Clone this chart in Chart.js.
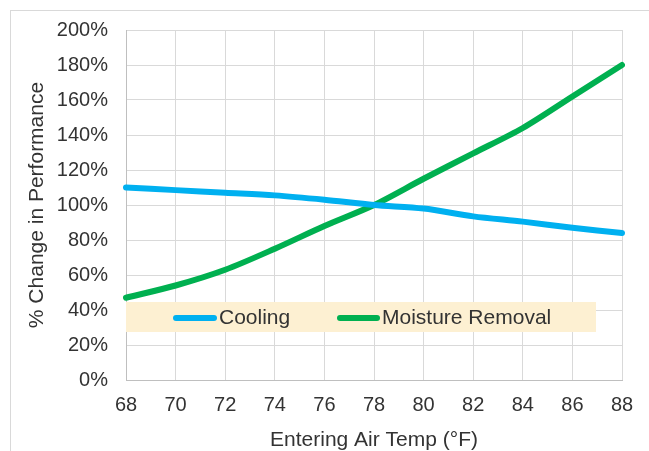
<!DOCTYPE html>
<html>
<head>
<meta charset="utf-8">
<script src="https://cdn.jsdelivr.net/npm/chart.js@4/dist/chart.umd.min.js"></script>
<style>
  html, body { margin: 0; padding: 0; background: #ffffff; }
  canvas { display: block; }
</style>
</head>
<body>
<canvas id="chart" width="649" height="451"></canvas>
<script>
// Entering air temperature (°F) on the x axis
const temps = ['68', '70', '72', '74', '76', '78', '80', '82', '84', '86', '88'];
// Percent change in performance for each temperature
const coolingPct = [110, 108.5, 107, 105.5, 103, 100, 98, 93.5, 90.5, 87, 84];
const moisturePct = [47, 54, 63, 75, 88, 100, 115, 129.5, 144, 162, 180];
// Series names and colours
const seriesNames = ['Cooling', 'Moisture Removal'];
const seriesColors = ['#00B0F0', '#00B050'];

const FONT = "'Liberation Sans', Arial, sans-serif";
const TEXT = '#333333';

// Light outer frame around the whole chart
const framePlugin = {
  id: 'frame',
  beforeDraw(chart) {
    const ctx = chart.ctx;
    ctx.save();
    ctx.fillStyle = '#ffffff';
    ctx.fillRect(0, 0, chart.width, chart.height);
    ctx.strokeStyle = '#d9d9d9';
    ctx.lineWidth = 1;
    ctx.strokeRect(10.5, 10.5, chart.width + 20, chart.height + 20);
    ctx.restore();
  }
};

// Legend drawn inside the plot area on a shaded band
const bandLegend = {
  id: 'bandLegend',
  afterDatasetsDraw(chart) {
    const ctx = chart.ctx;
    const area = chart.chartArea;
    const boxL = area.left, boxR = area.left + 470;
    const boxT = 302, boxB = 332;
    const midY = (boxT + boxB) / 2 + 1;
    ctx.save();
    ctx.fillStyle = '#FDF0D2';
    ctx.fillRect(boxL, boxT, boxR - boxL, boxB - boxT);
    const items = [
      { x0: 176, x1: 214, tx: 219 },
      { x0: 340, x1: 377, tx: 382 }
    ];
    chart.data.datasets.forEach((ds, i) => {
      const it = items[i];
      ctx.strokeStyle = ds.borderColor;
      ctx.lineWidth = 6;
      ctx.lineCap = 'round';
      ctx.beginPath();
      ctx.moveTo(it.x0, midY);
      ctx.lineTo(it.x1, midY);
      ctx.stroke();
      ctx.fillStyle = TEXT;
      ctx.font = '21px ' + FONT;
      ctx.textBaseline = 'middle';
      ctx.textAlign = 'left';
      ctx.fillText(ds.label, it.tx, midY);
    });
    ctx.restore();
  }
};

new Chart(document.getElementById('chart'), {
  type: 'line',
  data: {
    labels: temps,
    datasets: [
      {
        label: seriesNames[0],
        data: coolingPct,
        borderColor: seriesColors[0],
        backgroundColor: seriesColors[0],
        borderWidth: 6,
        borderCapStyle: 'round',
        pointRadius: 0,
        tension: 0.3
      },
      {
        label: seriesNames[1],
        data: moisturePct,
        borderColor: seriesColors[1],
        backgroundColor: seriesColors[1],
        borderWidth: 6,
        borderCapStyle: 'round',
        pointRadius: 0,
        tension: 0.3
      }
    ]
  },
  options: {
    responsive: false,
    animation: false,
    devicePixelRatio: 1,
    layout: { padding: { left: 10, right: 27, top: 25, bottom: 0 } },
    plugins: {
      legend: { display: false },
      tooltip: { enabled: false }
    },
    scales: {
      x: {
        type: 'category',
        offset: false,
        afterFit(scale) { scale.height = 71; },
        grid: { color: '#d9d9d9', lineWidth: 1, drawTicks: false },
        border: { color: '#bfbfbf', width: 1 },
        ticks: {
          color: TEXT,
          font: { family: FONT, size: 20 },
          padding: 13,
          maxRotation: 0,
          autoSkip: false
        },
        title: {
          display: true,
          text: 'Entering Air Temp (°F)',
          color: TEXT,
          font: { family: FONT, size: 21, lineHeight: 1 },
          padding: { top: 0, bottom: 0 }
        }
      },
      y: {
        min: 0,
        max: 200,
        afterFit(scale) { scale.width = 116; },
        grid: { color: '#d9d9d9', lineWidth: 1, drawTicks: false },
        border: { color: '#bfbfbf', width: 1 },
        ticks: {
          stepSize: 20,
          color: TEXT,
          font: { family: FONT, size: 20 },
          padding: 18,
          callback: (v) => v + '%'
        },
        title: {
          display: true,
          text: '% Change in Performance',
          color: TEXT,
          font: { family: FONT, size: 21, lineHeight: 1.2 },
          padding: { top: 15, bottom: 0 }
        }
      }
    }
  },
  plugins: [framePlugin, bandLegend]
});
</script>
</body>
</html>
